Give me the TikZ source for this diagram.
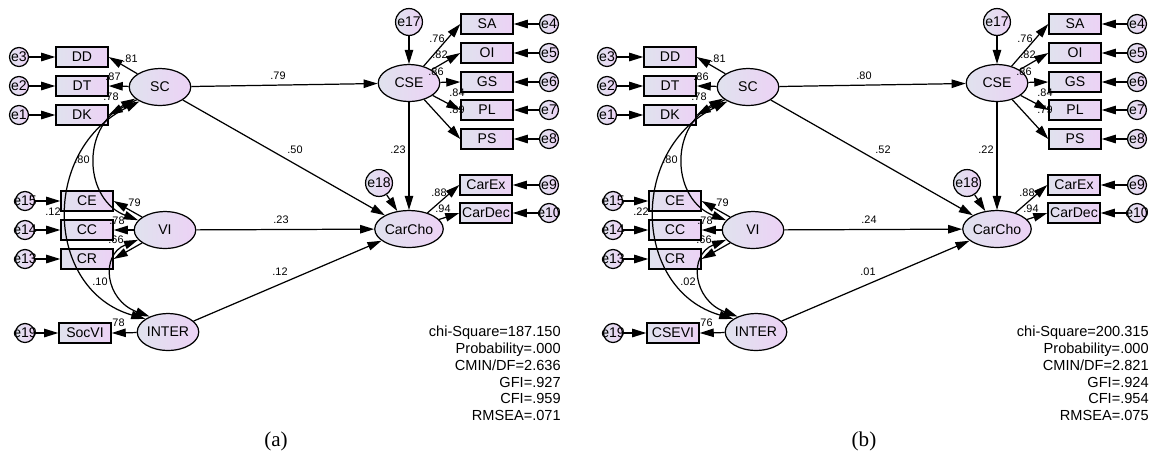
\documentclass[tikz,border=0pt]{standalone}
\usepackage{fontspec}
\setmainfont{Liberation Sans}
\newfontfamily\captionserif{Liberation Serif}
\usepackage{tikz}
\usetikzlibrary{shapes.geometric,arrows.meta}
\usepackage{xcolor}
\definecolor{amosgray}{RGB}{224,226,238}
\definecolor{amospink}{RGB}{236,210,245}

\tikzset{
  semtext/.style={font=\fontsize{8}{9.6}\selectfont},
  obsbox/.style={semtext, draw, line width=0.9pt, left color=amosgray, right color=amospink,
    minimum width=29.5pt, minimum height=11.3pt, inner sep=0pt},
  latent/.style={semtext, ellipse, draw, line width=0.7pt, left color=amosgray, right color=amospink,
    minimum width=35pt, minimum height=21pt, inner sep=0pt},
  errsmall/.style={semtext, circle, draw, line width=0.7pt, left color=amosgray, right color=amospink,
    minimum size=10.8pt, inner sep=0pt},
  errlarge/.style={errsmall, minimum size=15.3pt},
  regline/.style={-{Triangle[length=8pt,width=4.8pt]}, line width=0.7pt},
  corrline/.style={{Triangle[length=8pt,width=4.8pt]}-{Triangle[length=8pt,width=4.8pt]}, line width=0.7pt},
  coef/.style={font=\fontsize{6.2}{7}\selectfont, inner sep=0pt},
  fitstats/.style={font=\fontsize{8.3}{9.5}\selectfont, align=right, inner sep=0pt, anchor=north east},
  panelcap/.style={font=\captionserif\fontsize{12}{14}\selectfont}
}

% one fitted model: #1 social indicator, #2 coefficients x/y/value, #3 fit indices
\newcommand{\sempanel}[3]{%
  \node[latent] (SC) at (160,87) {SC};
  \node[latent] (VI) at (165,230) {VI};
  \node[latent] (INTER) at (168,332) {INTER};
  \node[latent] (CSE) at (409,83) {CSE};
  \node[latent] (CarCho) at (409,229) {CarCho};
  \foreach \ind/\err/\y in {DD/e3/57, DT/e2/86, DK/e1/115}{
    \node[obsbox] (\ind) at (82,\y) {\ind};
    \node[errsmall] (\err) at (19,\y) {\makebox[0pt]{\err}};
    \draw[regline] (\err) -- (\ind);
    \draw[regline] (SC) -- (\ind.east);
  }
  \foreach \ind/\err/\y in {CE/e15/201, CC/e14/230, CR/e13/259}{
    \node[obsbox] (\ind) at (87,\y) {\ind};
    \node[errsmall] (\err) at (25,\y) {\makebox[0pt]{\err}};
    \draw[regline] (\err) -- (\ind);
    \draw[regline] (VI) -- (\ind.east);
  }
  \node[obsbox] (soc) at (85,333) {#1};
  \node[errsmall] (e19) at (25,333) {\makebox[0pt]{e19}};
  \draw[regline] (e19) -- (soc);
  \draw[regline] (INTER) -- (soc.east);
  \foreach \ind/\err/\y in {SA/e4/24, OI/e5/53, GS/e6/82, PL/e7/110, PS/e8/139}{
    \node[obsbox] (\ind) at (487,\y) {\ind};
    \node[errsmall] (\err) at (549,\y) {\makebox[0pt]{\err}};
    \draw[regline] (\err) -- (\ind);
    \draw[regline] (CSE) -- (\ind.west);
  }
  \foreach \ind/\err/\y in {CarEx/e9/185, CarDec/e10/213}{
    \node[obsbox] (\ind) at (486,\y) {\ind};
    \node[errsmall] (\err) at (549,\y) {\makebox[0pt]{\err}};
    \draw[regline] (\err) -- (\ind);
    \draw[regline] (CarCho) -- (\ind.west);
  }
  \node[errlarge] (e17) at (409,22) {e17};
  \node[errlarge] (e18) at (379,183) {e18};
  \draw[regline] (e17) -- (CSE);
  \draw[regline] (e18) -- (CarCho);
  % structural paths
  \draw[regline] (SC) -- (CSE);
  \draw[regline] (SC) -- (CarCho);
  \draw[regline] (VI) -- (CarCho);
  \draw[regline] (INTER) -- (CarCho);
  \draw[regline] (CSE) -- (CarCho);
  % correlations
  \draw[corrline] (SC.205) .. controls (80,130) and (85,200) .. (VI.160);
  \draw[corrline] (SC.215) .. controls (40,150) and (45,290) .. (INTER.150);
  \draw[corrline] (VI.200) .. controls (100,255) and (105,300) .. (INTER.140);
  \foreach \x/\y/\t [count=\i] in {#2}
    \node[coef] (c\i) at (\x,\y) {\t};
  \node[fitstats] (fit) at (561,326) {#3};
}

\begin{document}
\begin{tikzpicture}[x=0.02cm, y=-0.02cm]
\useasboundingbox (0,0) rectangle (1150,461);
\begin{scope}[name prefix=a-]
\sempanel{SocVI}{130/59/.81, 113/77/.87, 111/97/.78, 133/203/.79, 117/221/.78, 116/240/.66,
  117/323/.78, 82/160/.80, 53/212/.12, 100/282/.10, 278/76/.79, 295/150/.50, 281/220/.23,
  280/272/.12, 398/150/.23, 437/39/.76, 440/55/.82, 436/72/.86, 457/93/.84, 457/110/.89,
  439/193/.88, 443/209/.94}
  {chi-Square=187.150\\Probability=.000\\CMIN/DF=2.636\\GFI=.927\\CFI=.959\\RMSEA=.071}
\node[panelcap] (capa) at (276,441) {(a)};
\end{scope}
\begin{scope}[shift={(588,0)}, name prefix=b-]
\sempanel{CSEVI}{130/59/.81, 113/77/.86, 111/97/.78, 133/203/.79, 117/221/.78, 116/240/.66,
  117/323/.76, 82/160/.80, 53/212/.22, 100/282/.02, 276/76/.80, 295/150/.52, 281/220/.24,
  280/272/.01, 398/150/.22, 437/39/.76, 440/55/.82, 436/72/.86, 457/93/.84, 457/110/.79,
  439/193/.88, 443/209/.94}
  {chi-Square=200.315\\Probability=.000\\CMIN/DF=2.821\\GFI=.924\\CFI=.954\\RMSEA=.075}
\node[panelcap] (capb) at (276,441) {(b)};
\end{scope}
\end{tikzpicture}
\end{document}
